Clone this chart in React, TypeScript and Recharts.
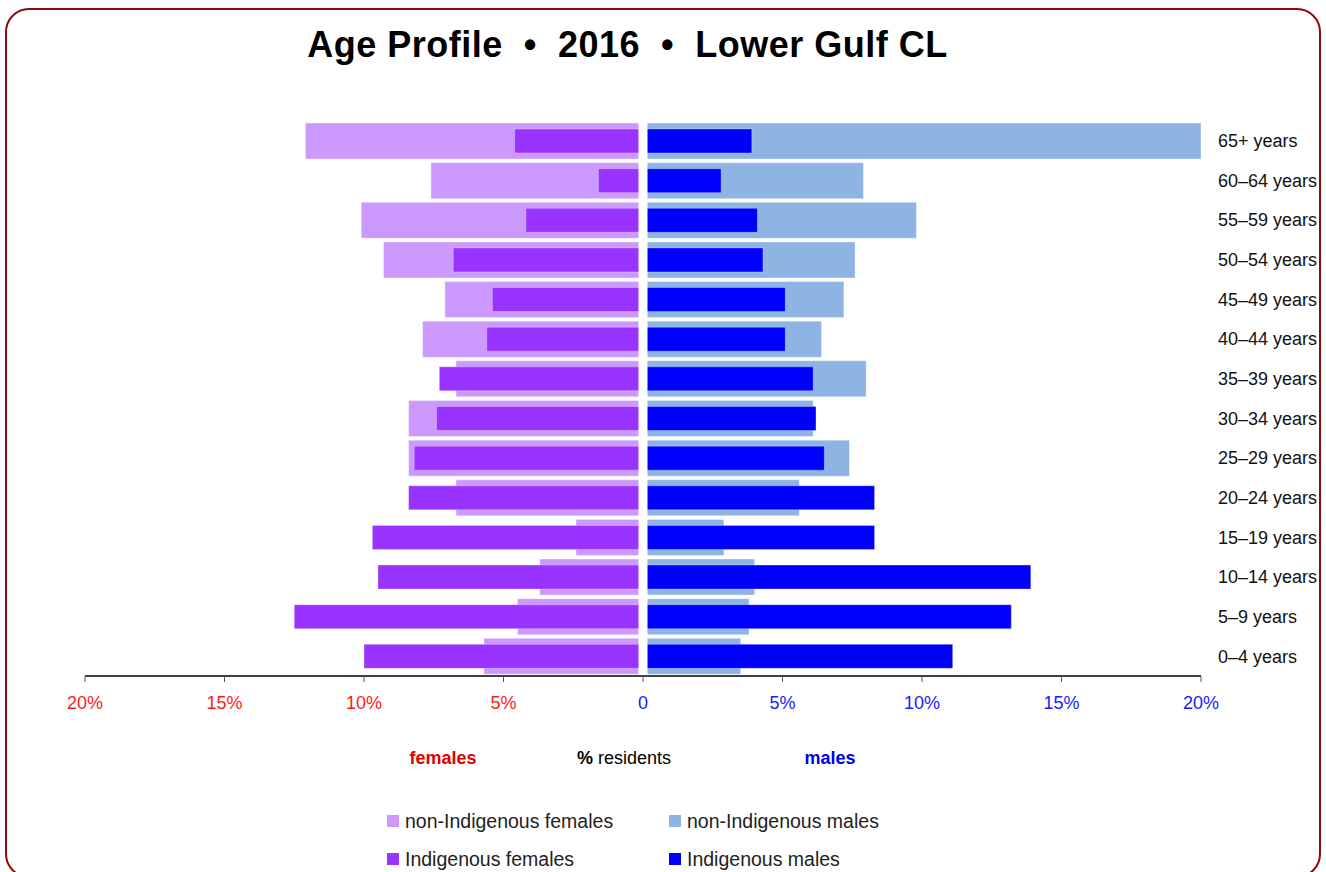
import {
  Bar,
  BarChart,
  ReferenceLine,
  XAxis,
  YAxis,
} from "recharts";

// ---------------------------------------------------------------------------
// Data (top row first)
// ---------------------------------------------------------------------------

const categories = [
  "65+ years",
  "60–64 years",
  "55–59 years",
  "50–54 years",
  "45–49 years",
  "40–44 years",
  "35–39 years",
  "30–34 years",
  "25–29 years",
  "20–24 years",
  "15–19 years",
  "10–14 years",
  "5–9 years",
  "0–4 years",
];

// % of residents
const nonIndigenousFemales = [12.1, 7.6, 10.1, 9.3, 7.1, 7.9, 6.7, 8.4, 8.4, 6.7, 2.4, 3.7, 4.5, 5.7];
const indigenousFemales = [4.6, 1.6, 4.2, 6.8, 5.4, 5.6, 7.3, 7.4, 8.2, 8.4, 9.7, 9.5, 12.5, 10.0];
const nonIndigenousMales = [20.0, 7.9, 9.8, 7.6, 7.2, 6.4, 8.0, 6.1, 7.4, 5.6, 2.9, 4.0, 3.8, 3.5];
const indigenousMales = [3.9, 2.8, 4.1, 4.3, 5.1, 5.1, 6.1, 6.2, 6.5, 8.3, 8.3, 13.9, 13.2, 11.1];

const xTicks = [-20, -15, -10, -5, 0, 5, 10, 15, 20];

const COLORS = {
  nonIndF: "#CC99FF",
  indF: "#9933FF",
  nonIndM: "#8DB4E2",
  indM: "#0000FF",
};

const legendItems = [
  { label: "non-Indigenous females", color: COLORS.nonIndF },
  { label: "non-Indigenous males", color: COLORS.nonIndM },
  { label: "Indigenous females", color: COLORS.indF },
  { label: "Indigenous males", color: COLORS.indM },
];

const FONT = '"Liberation Sans", Arial, Helvetica, sans-serif';

// females go left of zero, so they are stored negative
const rows = categories.map((age, i) => ({
  age,
  nonIndF: -nonIndigenousFemales[i],
  indF: -indigenousFemales[i],
  nonIndM: nonIndigenousMales[i],
  indM: indigenousMales[i],
}));

function PercentTick({ x, y, payload }: any) {
  const v = payload.value as number;
  return (
    <text
      x={x}
      y={y}
      dy="0.71em"
      textAnchor="middle"
      fontSize={18}
      fontFamily={FONT}
      fill={v < 0 ? "#FF1A1A" : "#1A1AFF"}
    >
      {v === 0 ? "0" : `${Math.abs(v)}%`}
    </text>
  );
}

export default function App() {
  return (
    <div
      style={{
        position: "absolute",
        left: 0,
        top: 0,
        width: 1326,
        height: 872,
        overflow: "hidden",
        background: "#fff",
        fontFamily: FONT,
      }}
    >
      {/* rounded frame, bottom runs just past the page edge */}
      <div
        style={{
          position: "absolute",
          left: 5,
          top: 8,
          width: 1316,
          height: 870,
          border: "2px solid #8B0A0A",
          borderRadius: 24,
          boxSizing: "border-box",
        }}
      />

      <div
        style={{
          position: "absolute",
          left: 0,
          top: 27,
          width: 1255,
          textAlign: "center",
          fontSize: 36,
          lineHeight: 1,
          fontWeight: "bold",
          letterSpacing: 0.5,
          whiteSpace: "pre",
          color: "#000",
        }}
      >
        {"Age Profile  •  2016  •  Lower Gulf CL"}
      </div>

      <div style={{ position: "absolute", left: 0, top: 0 }}>
        <BarChart
          width={1326}
          height={872}
          data={rows}
          layout="vertical"
          stackOffset="sign"
          margin={{ top: 121, right: 15, bottom: 166, left: 85 }}
        >
          <XAxis
            type="number"
            domain={[-20, 20]}
            ticks={xTicks}
            allowDataOverflow
            height={30}
            axisLine={{ stroke: "#000", strokeWidth: 1.5 }}
            tickLine={{ stroke: "#555" }}
            tickSize={6}
            tickMargin={14}
            tick={<PercentTick />}
            interval={0}
          />
          <YAxis
            yAxisId="outer"
            type="category"
            dataKey="age"
            orientation="right"
            width={110}
            axisLine={false}
            tickLine={false}
            tickSize={0}
            tickMargin={17}
            interval={0}
            tick={{ fontSize: 18, fill: "#111", fontFamily: FONT, textAnchor: "start" }}
          />
          <YAxis yAxisId="inner" type="category" dataKey="age" hide />

          <Bar
            yAxisId="outer"
            dataKey="nonIndF"
            stackId="outer"
            barSize={36}
            fill={COLORS.nonIndF}
            stroke="#fff"
            strokeOpacity={0.35}
            isAnimationActive={false}
          />
          <Bar
            yAxisId="outer"
            dataKey="nonIndM"
            stackId="outer"
            barSize={36}
            fill={COLORS.nonIndM}
            stroke="#fff"
            strokeOpacity={0.35}
            isAnimationActive={false}
          />
          <Bar
            yAxisId="inner"
            dataKey="indF"
            stackId="inner"
            barSize={24}
            fill={COLORS.indF}
            stroke="#fff"
            strokeOpacity={0.3}
            isAnimationActive={false}
          />
          <Bar
            yAxisId="inner"
            dataKey="indM"
            stackId="inner"
            barSize={24}
            fill={COLORS.indM}
            stroke="#fff"
            strokeOpacity={0.3}
            isAnimationActive={false}
          />

          {/* white gap down the centre, as in the source */}
          <ReferenceLine yAxisId="outer" x={0} stroke="#fff" strokeWidth={9} />
        </BarChart>
      </div>

      {/* axis captions */}
      <div style={{ position: "absolute", left: 443, top: 748, transform: "translateX(-50%)", fontSize: 18, fontWeight: "bold", color: "#E00000", lineHeight: "20px" }}>
        females
      </div>
      <div style={{ position: "absolute", left: 624, top: 748, transform: "translateX(-50%)", fontSize: 18, color: "#000", lineHeight: "20px", whiteSpace: "pre" }}>
        <b>%</b> residents
      </div>
      <div style={{ position: "absolute", left: 830, top: 748, transform: "translateX(-50%)", fontSize: 18, fontWeight: "bold", color: "#0000EE", lineHeight: "20px" }}>
        males
      </div>

      {/* legend, 2 x 2 */}
      <div
        style={{
          position: "absolute",
          left: 387,
          top: 810,
          display: "grid",
          gridTemplateColumns: "282px 282px",
          rowGap: 16,
        }}
      >
        {legendItems.map((item) => (
          <div key={item.label} style={{ display: "flex", alignItems: "center", height: 22 }}>
            <span style={{ width: 12, height: 12, background: item.color, marginRight: 6, flex: "none" }} />
            <span style={{ fontSize: 19.5, color: "#222", lineHeight: "22px" }}>{item.label}</span>
          </div>
        ))}
      </div>
    </div>
  );
}
